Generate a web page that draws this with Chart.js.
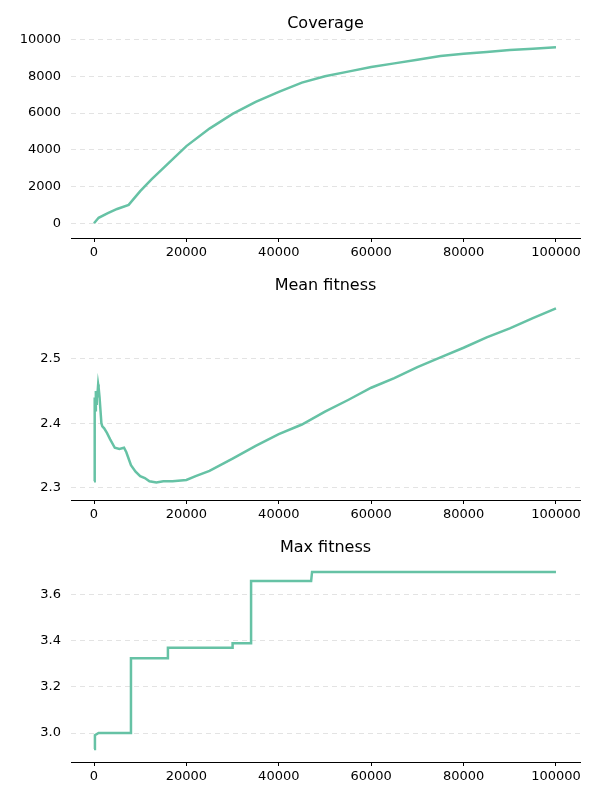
<!DOCTYPE html>
<html>
<head>
<meta charset="utf-8">
<script src="https://cdn.jsdelivr.net/npm/chart.js"></script>
<style>
  body { margin: 0; background: #fff; }
  .box { position: absolute; left: 0; width: 600px; height: 262px; }
</style>
</head>
<body>
<div class="box" style="top:0"><canvas id="c1"></canvas></div>
<div class="box" style="top:262px"><canvas id="c2"></canvas></div>
<div class="box" style="top:524px"><canvas id="c3"></canvas></div>
<script>
const COLOR = '#66c2a5';

// Coverage
const covX = [0, 1000, 3000, 5000, 7500, 10000, 12500, 15000, 17500, 20000, 25000, 30000, 35000, 40000, 45000, 50000, 55000, 60000, 65000, 70000, 75000, 80000, 85000, 90000, 95000, 100000];
const covY = [0, 300, 550, 780, 1000, 1750, 2400, 3000, 3600, 4200, 5150, 5950, 6600, 7150, 7650, 8000, 8250, 8500, 8700, 8900, 9100, 9220, 9320, 9430, 9500, 9580];

// Mean fitness
const meanX = [0, 100, 200, 300, 400, 500, 600, 700, 800, 900, 1000, 1200, 1400, 1600, 1800, 2200, 2800, 3500, 4500, 5500, 6500, 7000, 7500, 8000, 9000, 10000, 11000, 12000, 13500, 15000, 17000, 20000, 22000, 25000, 30000, 35000, 40000, 45000, 50000, 55000, 60000, 65000, 70000, 75000, 80000, 85000, 90000, 95000, 100000];
const meanY = [2.31, 2.38, 2.44, 2.42, 2.45, 2.43, 2.45, 2.44, 2.44, 2.46, 2.455, 2.44, 2.42, 2.40, 2.395, 2.392, 2.385, 2.375, 2.362, 2.36, 2.362, 2.355, 2.345, 2.335, 2.325, 2.318, 2.315, 2.31, 2.308, 2.31, 2.31, 2.312, 2.318, 2.326, 2.345, 2.365, 2.383, 2.398, 2.418, 2.436, 2.455, 2.47, 2.487, 2.502, 2.517, 2.533, 2.547, 2.563, 2.578];

// Max fitness
const maxX = [0, 200, 1000, 7800, 8000, 8000, 16000, 16000, 30000, 30000, 34000, 34000, 47000, 47200, 100000];
const maxY = [2.93, 2.99, 3.0, 3.0, 3.03, 3.325, 3.325, 3.37, 3.37, 3.39, 3.39, 3.66, 3.66, 3.70, 3.70];

function pts(xs, ys) { return xs.map((x, i) => ({ x: x, y: ys[i] })); }

// title centred over the plot area, like matplotlib
const plotTitle = {
  id: 'plotTitle',
  afterDraw: c => {
    const ctx = c.ctx, a = c.chartArea;
    ctx.save();
    ctx.font = '16px "DejaVu Sans"';
    ctx.fillStyle = '#000';
    ctx.textAlign = 'center';
    ctx.textBaseline = 'bottom';
    ctx.fillText(c.options.plugins.plotTitle.text, (a.left + a.right) / 2, a.top - 6);
    ctx.restore();
  }
};

function make(id, title, xs, ys, yMin, yMax, yStep) {
  new Chart(document.getElementById(id), {
    type: 'line',
    data: { datasets: [{ data: pts(xs, ys), borderColor: COLOR, borderWidth: 2.5, pointRadius: 0, tension: 0, fill: false }] },
    options: {
      responsive: true, maintainAspectRatio: false, animation: false,
      layout: { padding: { right: 20, top: 38 } },
      plugins: {
        legend: { display: false },
        tooltip: { enabled: false },
        title: { display: false },
        plotTitle: { text: title }
      },
      scales: {
        x: {
          type: 'linear', min: -4980, max: 105200,
          afterBuildTicks: s => { s.ticks = [0, 20000, 40000, 60000, 80000, 100000].map(v => ({ value: v })); },
          afterFit: s => { s.height = 24; },
          border: { display: true, color: '#000' },
          grid: { drawOnChartArea: false, drawTicks: true, tickLength: 4, color: '#000' },
          ticks: { color: '#000', maxRotation: 0, font: { family: 'DejaVu Sans', size: 13 }, callback: v => String(v) }
        },
        y: {
          min: yMin, max: yMax,
          afterBuildTicks: s => { const t = []; for (let v = Math.ceil(yMin / yStep) * yStep; v <= yMax + 1e-9; v += yStep) t.push({ value: +v.toFixed(4) }); s.ticks = t; },
          afterFit: s => { s.width = 71; },
          border: { display: false, dash: [5, 4] },
          grid: { color: '#e3e3e3', lineWidth: 1, drawTicks: false },
          ticks: { color: '#000', padding: 10, font: { family: 'DejaVu Sans', size: 13 }, callback: v => yStep < 1 ? v.toFixed(1) : String(v) }
        }
      }
    },
    plugins: [plotTitle]
  });
}

make('c1', 'Coverage', covX, covY, -800, 10080, 2000);
make('c2', 'Mean fitness', meanX, meanY, 2.281, 2.591, 0.1);
make('c3', 'Max fitness', maxX, maxY, 2.874, 3.743, 0.2);
</script>
</body>
</html>
